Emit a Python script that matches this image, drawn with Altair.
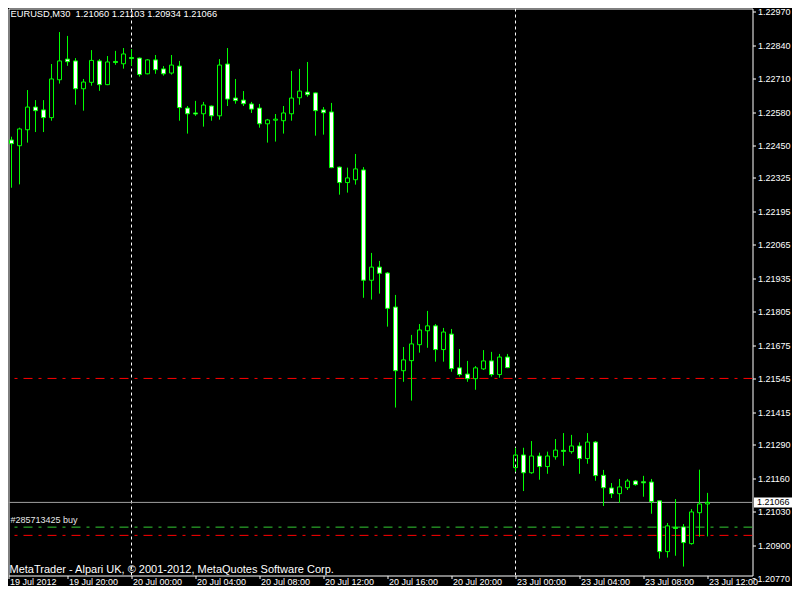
import altair as alt
import pandas as pd

symbol = "EURUSD,M30"

opens = [1.22728, 1.22472, 1.22450, 1.22512, 1.22600, 1.22589, 1.22559, 1.22706, 1.22786, 1.22779,
         1.22671, 1.22696, 1.22779, 1.22687, 1.22777, 1.22768, 1.22792, 1.22790, 1.22729, 1.22783,
         1.22748, 1.22732, 1.22759, 1.22596, 1.22577, 1.22574, 1.22604, 1.22566, 1.22767, 1.22635,
         1.22627, 1.22612, 1.22596, 1.22535, 1.22549, 1.22547, 1.22574, 1.22636, 1.22658, 1.22655,
         1.22589, 1.22581, 1.22367, 1.22307, 1.22318, 1.22356, 1.21928, 1.21979, 1.21956, 1.21824,
         1.21577, 1.21616, 1.21678, 1.21732, 1.21751, 1.21659, 1.21719, 1.21588, 1.21564, 1.21546,
         1.21584, 1.21615, 1.21562, 1.21630, 1.21201, 1.21250, 1.21181, 1.21246, 1.21205, 1.21243,
         1.21268, 1.21263, 1.21285, 1.21236, 1.21300, 1.21171, 1.21122, 1.21100, 1.21123, 1.21149,
         1.21146, 1.21145, 1.21072, 1.20875, 1.20969, 1.20971, 1.20906, 1.21026, 1.21060]
highs = [1.22772, 1.22485, 1.22520, 1.22666, 1.22627, 1.22627, 1.22767, 1.22891, 1.22876, 1.22790,
         1.22709, 1.22821, 1.22786, 1.22798, 1.22818, 1.22829, 1.22825, 1.22792, 1.22786, 1.22802,
         1.22759, 1.22802, 1.22779, 1.22604, 1.22624, 1.22620, 1.22606, 1.22786, 1.22829, 1.22709,
         1.22662, 1.22620, 1.22612, 1.22554, 1.22573, 1.22604, 1.22740, 1.22748, 1.22775, 1.22657,
         1.22600, 1.22616, 1.22369, 1.22365, 1.22418, 1.22367, 1.22034, 1.22003, 1.21960, 1.21871,
         1.21669, 1.21716, 1.21758, 1.21809, 1.21758, 1.21743, 1.21739, 1.21661, 1.21615, 1.21595,
         1.21657, 1.21650, 1.21642, 1.21642, 1.21278, 1.21278, 1.21304, 1.21259, 1.21263, 1.21312,
         1.21335, 1.21328, 1.21299, 1.21335, 1.21304, 1.21192, 1.21141, 1.21157, 1.21157, 1.21153,
         1.21169, 1.21157, 1.21073, 1.20986, 1.21079, 1.20982, 1.21040, 1.21193, 1.21103]
lows = [1.22372, 1.22287, 1.22300, 1.22462, 1.22503, 1.22503, 1.22547, 1.22691, 1.22760, 1.22609,
        1.22586, 1.22683, 1.22663, 1.22685, 1.22764, 1.22749, 1.22760, 1.22718, 1.22727, 1.22729,
        1.22722, 1.22726, 1.22547, 1.22497, 1.22566, 1.22524, 1.22547, 1.22551, 1.22604, 1.22613,
        1.22604, 1.22577, 1.22520, 1.22462, 1.22466, 1.22497, 1.22547, 1.22609, 1.22640, 1.22489,
        1.22493, 1.22363, 1.22260, 1.22268, 1.22299, 1.21860, 1.21853, 1.21876, 1.21748, 1.21434,
        1.21534, 1.21461, 1.21647, 1.21666, 1.21612, 1.21612, 1.21573, 1.21554, 1.21534, 1.21503,
        1.21580, 1.21554, 1.21550, 1.21587, 1.21185, 1.21110, 1.21177, 1.21154, 1.21177, 1.21232,
        1.21208, 1.21255, 1.21177, 1.21216, 1.21150, 1.21052, 1.21083, 1.21064, 1.21114, 1.21131,
        1.21088, 1.21022, 1.20848, 1.20852, 1.20859, 1.20817, 1.20902, 1.20933, 1.20934]
closes = [1.22472, 1.22458, 1.22515, 1.22600, 1.22586, 1.22559, 1.22709, 1.22779, 1.22776, 1.22671,
          1.22697, 1.22781, 1.22687, 1.22775, 1.22773, 1.22806, 1.22788, 1.22726, 1.22783, 1.22745,
          1.22729, 1.22763, 1.22598, 1.22574, 1.22573, 1.22608, 1.22566, 1.22763, 1.22631, 1.22625,
          1.22613, 1.22592, 1.22535, 1.22550, 1.22553, 1.22577, 1.22635, 1.22662, 1.22648, 1.22586,
          1.22578, 1.22365, 1.22307, 1.22325, 1.22360, 1.21928, 1.21979, 1.21955, 1.21819, 1.21577,
          1.21619, 1.21681, 1.21735, 1.21751, 1.21659, 1.21727, 1.21585, 1.21562, 1.21546, 1.21588,
          1.21615, 1.21562, 1.21630, 1.21589, 1.21250, 1.21181, 1.21246, 1.21205, 1.21246, 1.21269,
          1.21264, 1.21285, 1.21236, 1.21300, 1.21170, 1.21123, 1.21100, 1.21126, 1.21149, 1.21135,
          1.21142, 1.21069, 1.20875, 1.20975, 1.20965, 1.20910, 1.21029, 1.21060, 1.21066]

time_labels = ["19 Jul 2012", "19 Jul 20:00", "20 Jul 00:00", "20 Jul 04:00", "20 Jul 08:00",
               "20 Jul 12:00", "20 Jul 16:00", "20 Jul 20:00", "23 Jul 00:00", "23 Jul 04:00",
               "23 Jul 08:00", "23 Jul 12:00"]
time_label_bars = [0, 8, 16, 24, 32, 40, 48, 56, 64, 72, 80, 88]
price_ticks = [1.22970, 1.22840, 1.22710, 1.22580, 1.22450, 1.22325, 1.22195, 1.22065, 1.21935,
               1.21805, 1.21675, 1.21545, 1.21415, 1.21290, 1.21160, 1.21030, 1.20900, 1.20770]
separator_bars = [16, 64]

order_label = "#285713425 buy"
order_open = 1.20970
stop_loss = 1.20938
take_profit = 1.21547
bid_price = closes[-1]
copyright_text = "MetaTrader - Alpari UK, \u00a9 2001-2012, MetaQuotes Software Corp."

FONT = "Liberation Sans"
GREEN = "#00ff00"

df = pd.DataFrame({"i": list(range(len(opens))), "open": opens, "high": highs,
                   "low": lows, "close": closes})

W, H = 744, 567
x_dom = [0.625, 93.625]
y_dom = [1.20782355, 1.22982417]
xs = alt.Scale(domain=x_dom, nice=False, zero=False, padding=0)
ys = alt.Scale(domain=y_dom, nice=False, zero=False, padding=0)

tick_vals = [max(b, x_dom[0]) for b in time_label_bars]
label_arr = "[" + ",".join("'" + s + "'" for s in time_labels) + "]"
x_axis = alt.Axis(values=tick_vals, labelExpr=label_arr + "[round(datum.value / 8)]",
                  orient="bottom", title=None, tickSize=3, labelPadding=-1,
                  labelAlign="left", labelBaseline="top", labelOffset=1,
                  labelFlush=False, labelOverlap=False, labelBound=False)
in_ticks = [p for p in price_ticks if y_dom[0] <= p <= y_dom[1]]
out_ticks = [p for p in price_ticks if not (y_dom[0] <= p <= y_dom[1])]
y_axis = alt.Axis(values=in_ticks, format=".5f", orient="right", title=None,
                  tickSize=3, labelPadding=2, labelOverlap=False, labelFlush=False)


def X(field):
    return alt.X(field, scale=xs, axis=x_axis)


def Y(field):
    return alt.Y(field, scale=ys, axis=y_axis)


base = alt.Chart(df).transform_calculate(
    top="max(datum.open, datum.close)", bot="min(datum.open, datum.close)",
    bull="datum.close > datum.open ? 1 : 0")

# period separators
sep = alt.Chart(pd.DataFrame({"i": separator_bars})).mark_rule(
    color="white", strokeWidth=1, strokeDash=[3, 3], clip=True
).encode(x=X("i:Q"))

levels = pd.DataFrame({"price": [take_profit, order_open, stop_loss],
                       "kind": ["tp", "open", "sl"]})
level_lines = alt.Chart(levels).mark_rule(strokeWidth=1, strokeDash=[9, 6, 3, 6], clip=True).encode(
    y=Y("price:Q"),
    color=alt.Color("kind:N", scale=alt.Scale(domain=["tp", "open", "sl"],
                                              range=["#ff0000", "#33cc33", "#ff0000"]), legend=None))

bid_df = pd.DataFrame({"price": [bid_price]})
bid_line = alt.Chart(bid_df).mark_rule(color="#a0a0a0", strokeWidth=1, clip=True).encode(
    y=Y("price:Q"))

wick_up = base.mark_rule(color=GREEN, strokeWidth=1, clip=True).encode(
    x=X("i:Q"), y=Y("high:Q"), y2="top:Q")
wick_dn = base.mark_rule(color=GREEN, strokeWidth=1, clip=True).encode(
    x=X("i:Q"), y=Y("bot:Q"), y2="low:Q")
bodies = base.mark_bar(size=4, stroke=GREEN, strokeWidth=1, clip=True).encode(
    x=X("i:Q"), y=Y("open:Q"), y2="close:Q",
    fill=alt.condition("datum.bull == 1", alt.value("transparent"), alt.value("white")))

order_txt = alt.Chart(pd.DataFrame({"price": [order_open], "label": [order_label]})).mark_text(
    align="left", baseline="bottom", dy=-2, color="#e8e8e8", font=FONT, fontSize=9
).encode(x=alt.value(2), y=Y("price:Q"), text="label:N")

# price-scale tick that lies just below the plotted range
out_df = pd.DataFrame({"price": out_ticks})
out_tick = alt.Chart(out_df).mark_rule(color="white", strokeWidth=1, clip=False).encode(
    x=alt.value(W), x2=alt.value(W + 3), y=Y("price:Q"))
out_lbl = alt.Chart(out_df).mark_text(align="left", baseline="middle", color="white",
                                      font=FONT, fontSize=9, clip=False).encode(
    x=alt.value(W + 5), y=Y("price:Q"), text=alt.Text("price:Q", format=".5f"))

box = alt.Chart(bid_df).mark_rect(fill="white", yOffset=-5, y2Offset=5, clip=False).encode(
    x=alt.value(W + 1.5), x2=alt.value(W + 40), y=Y("price:Q"), y2="price:Q")
box_txt = alt.Chart(bid_df).mark_text(align="left", baseline="middle", color="black",
                                      font=FONT, fontSize=9, clip=False).encode(
    x=alt.value(W + 4.5), y=Y("price:Q"), text=alt.Text("price:Q", format=".5f"))

title_str = "{}\u00a0\u00a0{:.5f} {:.5f} {:.5f} {:.5f}".format(
    symbol, opens[-1], highs[-1], lows[-1], closes[-1])
title_txt = alt.Chart(pd.DataFrame({"t": [title_str]})).mark_text(
    align="left", baseline="middle", color="white", font=FONT, fontSize=9.3
).encode(x=alt.value(2), y=alt.value(5.5), text="t:N")
copy_txt = alt.Chart(pd.DataFrame({"t": [copyright_text]})).mark_text(
    align="left", baseline="middle", color="white", font=FONT, fontSize=11
).encode(x=alt.value(1), y=alt.value(561), text="t:N")

chart = alt.layer(
    sep, level_lines, bid_line, wick_up, wick_dn, bodies,
    order_txt, out_tick, out_lbl, box, box_txt, title_txt, copy_txt
).properties(
    width=W, height=H,
    padding={"left": 0.5, "top": 0.5, "right": 39.5, "bottom": 10.5},
    autosize=alt.AutoSizeParams(type="none"),
    background="black",
).configure_view(
    stroke="white", strokeWidth=1, fill="black"
).configure_axis(
    labelColor="white", tickColor="white", domain=False, grid=False,
    labelFont=FONT, labelFontSize=9, tickWidth=1
)

chart.save("out.html", embed_options={"renderer": "svg", "actions": False})
